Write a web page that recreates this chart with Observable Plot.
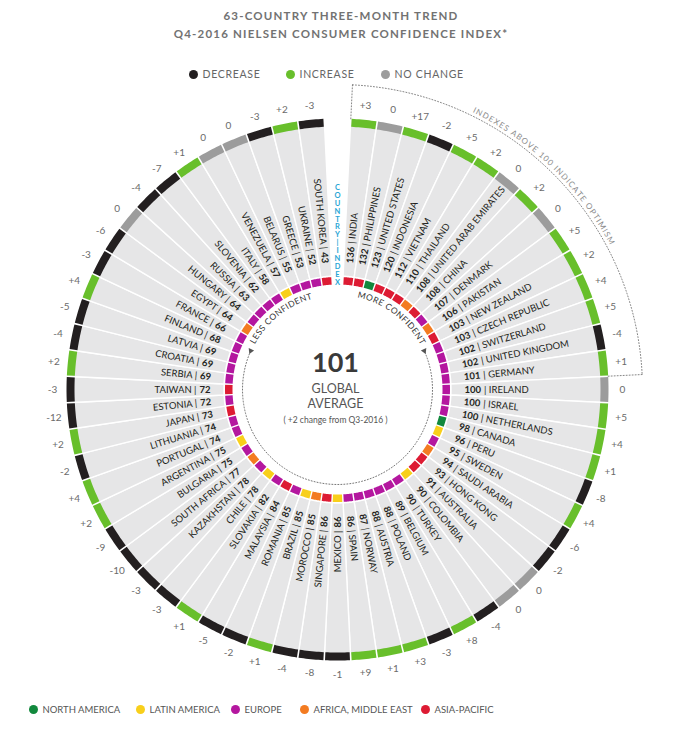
<!DOCTYPE html>
<html><head><meta charset="utf-8">
<script src="https://cdn.jsdelivr.net/npm/d3@7"></script>
<script src="https://cdn.jsdelivr.net/npm/@observablehq/plot@0.6"></script>
<style>
body{margin:0;background:#fff;font-family:Lato,sans-serif;}
#wrap{position:relative;width:682px;height:731px;overflow:hidden;background:#fff;}
.t{position:absolute;left:0;width:682px;text-align:center;color:#727272;font-weight:700;font-size:11.5px;letter-spacing:1.2px;line-height:14px;}
.lgi{position:absolute;display:flex;align-items:center;height:14px;white-space:nowrap;}
.dot{width:9px;height:9px;border-radius:50%;margin-right:5px;flex:none}
#chart{position:absolute;left:0;top:82px}
</style></head><body>
<div id="wrap">
<div class="t" style="top:9px">63-COUNTRY THREE-MONTH TREND</div>
<div class="t" style="top:27px">Q4-2016 NIELSEN CONSUMER CONFIDENCE INDEX*</div>
<div id="legTop"></div>
<div id="chart"></div>
<div id="legBot"></div>
</div>
<script>
// ---------------- DATA ----------------
const countries = ["INDIA","PHILIPPINES","UNITED STATES","INDONESIA","VIETNAM","THAILAND","UNITED ARAB EMIRATES","CHINA","DENMARK","PAKISTAN","NEW ZEALAND","CZECH REPUBLIC","SWITZERLAND","UNITED KINGDOM","GERMANY","IRELAND","ISRAEL","NETHERLANDS","CANADA","PERU","SWEDEN","SAUDI ARABIA","HONG KONG","AUSTRALIA","COLOMBIA","TURKEY","BELGIUM","POLAND","AUSTRIA","NORWAY","SPAIN","MEXICO","SINGAPORE","MOROCCO","BRAZIL","ROMANIA","MALAYSIA","SLOVAKIA","CHILE","KAZAKHSTAN","SOUTH AFRICA","BULGARIA","ARGENTINA","PORTUGAL","LITHUANIA","JAPAN","ESTONIA","TAIWAN","SERBIA","CROATIA","LATVIA","FINLAND","FRANCE","EGYPT","HUNGARY","RUSSIA","SLOVENIA","ITALY","VENEZUELA","BELARUS","GREECE","UKRAINE","SOUTH KOREA"];
const indexValues = [136,132,123,120,112,110,108,108,107,106,103,103,102,102,101,100,100,100,98,96,95,94,93,91,90,90,89,88,88,87,86,86,86,85,85,85,84,82,78,78,77,75,75,74,74,73,72,72,69,69,69,68,66,64,64,63,62,58,57,55,53,52,43];
const changes = [3,0,17,-2,5,2,0,2,0,5,2,4,5,-4,1,0,5,4,1,-8,4,-6,-2,0,0,-4,8,-3,3,1,9,-1,-8,-4,1,-2,-5,1,-3,-3,-10,-9,2,4,-2,2,-12,-3,2,-4,-5,4,-3,-6,0,-4,-7,1,0,0,-3,2,-3];
const regions = ["AP","AP","NA","AP","AP","AP","AME","AP","EU","AME","AP","EU","EU","EU","EU","EU","EU","EU","NA","LA","EU","AME","AP","AP","LA","EU","EU","EU","EU","EU","EU","LA","AP","AME","LA","EU","AP","EU","LA","EU","AME","EU","LA","EU","EU","AP","EU","AP","EU","EU","EU","EU","EU","AME","EU","EU","EU","EU","LA","EU","EU","EU","AP"];
const regionCodes = ["NA","LA","EU","AME","AP"];
const regionNames = ["NORTH AMERICA","LATIN AMERICA","EUROPE","AFRICA, MIDDLE EAST","ASIA-PACIFIC"];
const regionColors = ["#12893d","#f8cf1b","#b4179f","#f37b21","#dd1b33"];
const trendNames = ["DECREASE","INCREASE","NO CHANGE"];
const trendColors = ["#231f20","#68bf2b","#9c9c9c"];
const globalAverage = 101;
const globalLines = ["GLOBAL","AVERAGE"];
const globalChangeNote = "( +2 change from Q3-2016 )";
const optimismNote = "INDEXES ABOVE 100 INDICATE OPTIMISM";
const moreLabel = "MORE CONFIDENT";
const lessLabel = "LESS CONFIDENT";
const gapLabel = "COUNTRY|INDEX";

// ---------------- LEGENDS (HTML) ----------------
function legend(el, names, colors, lefts, top, font, color, ls){
  const box = document.getElementById(el);
  names.forEach((n,i)=>{
    const d = document.createElement("div");
    d.className = "lgi";
    d.style.left = lefts[i]+"px"; d.style.top = top+"px";
    d.style.font = font; d.style.color = color; d.style.letterSpacing = ls;
    d.innerHTML = `<span class="dot" style="background:${colors[i]}"></span><span>${n}</span>`;
    box.appendChild(d);
  });
}
legend("legTop", trendNames, trendColors, [188.5,285.5,380.5], 67, "10.5px Lato", "#666", "0.7px");
legend("legBot", regionNames, regionColors, [28.5,135.5,230.5,299.5,420.5], 702, "9.5px Lato", "#555", "0px");

// ---------------- GEOMETRY ----------------
const W = 682, H = 610, CX = 337, CY = 307;
const slot = 360/64, rad = Math.PI/180;
const polar = (r, th) => [r*Math.sin(th*rad), r*Math.cos(th*rad)];
const ctx = document.createElement("canvas").getContext("2d");
const tw = (s, font) => { ctx.font = font; return ctx.measureText(s).width; };

const data = countries.map((c,i)=>({
  name:c, idx:indexValues[i], change:changes[i], region:regions[i],
  trend: changes[i] < 0 ? "DECREASE" : changes[i] > 0 ? "INCREASE" : "NO CHANGE",
  theta:(i+1)*slot, i
}));

function band(r0, r1, a0, a1, n=10){
  const pts=[];
  for(let k=0;k<=n;k++) pts.push(polar(r0, a0+(a1-a0)*k/n));
  for(let k=n;k>=0;k--) pts.push(polar(r1, a0+(a1-a0)*k/n));
  pts.push(pts[0]);
  return pts;
}
function ring(r0, r1, key, gapPx){
  const g = (gapPx/((r0+r1)/2))/rad/2;
  return data.flatMap(d => band(r0, r1, d.theta-slot/2+g, d.theta+slot/2-g).map(([x,y])=>({id:d.i, x, y, cat:d[key]})));
}
const wedgeRows = data.flatMap(d => band(113.5, 266, d.theta-slot/2, d.theta+slot/2).map(([x,y])=>({id:d.i,x,y})));
const outerRows = ring(263, 271, "trend", 1.6);
const regionRows = ring(105, 112.5, "region", 1.4);

// labels
const numFont = "bold 9.5px Lato";
const R0 = 127;
const right = data.filter(d => d.theta < 180), left = data.filter(d => d.theta >= 180);
function labelRows(arr, isRight){
  return arr.flatMap(d=>{
    const nw = tw(String(d.idx), numFont);
    const [nx,ny] = polar(R0, d.theta);
    const [mx,my] = polar(R0+nw+3, d.theta);
    const rot = isRight ? d.theta-90 : d.theta+90;
    return [{kind:"num", x:nx, y:ny, rot, text:String(d.idx)},
            {kind:"name", x:mx, y:my, rot, text: isRight ? "| "+d.name : d.name+" |"}];
  });
}
const rightLabels = labelRows(right, true), leftLabels = labelRows(left, false);
const changeRows = data.map(d=>{const [x,y]=polar(285,d.theta); return {x,y,text: d.change>0?"+"+d.change:String(d.change)};});

function arcText(str, r, mid, font, sp){
  const chars=[...str], ws=chars.map(c=>tw(c,font));
  const total = d3.sum(ws)+sp*(chars.length-1);
  const start = mid - (total/r)/rad/2;
  let acc=0;
  return chars.map((c,k)=>{const cc=acc+ws[k]/2; acc+=ws[k]+sp; const th=start+(cc/r)/rad; const [x,y]=polar(r,th); return {c,x,y,rot:th};});
}
const moreRows = arcText(moreLabel, 97, 37, "8.5px Lato", 0.6);
const lessRows = arcText(lessLabel, 97, 321.5, "8.5px Lato", 0.6);
const optRows = arcText(optimismNote, 311, 44, "8px Lato", 1.1);

const arcLine = (r, a0, a1, n=120) => d3.range(n+1).map(k=>{const [x,y]=polar(r,a0+(a1-a0)*k/n); return {x,y};});
const dottedCircle = arcLine(95, 67, 293);
const optArc = arcLine(305, slot/2, 15.5*slot);
const optTicks = [slot/2, 15.5*slot].flatMap((a,j)=>[polar(271,a),polar(305,a)].map(([x,y])=>({x,y,id:j})));
const arrowRows = [{p:polar(95,66), rot:156},{p:polar(95,294), rot:204}].map(d=>({x:d.p[0],y:d.p[1],rot:d.rot}));
const gapRows = [...gapLabel].map((c,k)=>({c, x:0, y:202-k*7.9}));
const centerLines = globalLines.map((t,k)=>({t, x:0, y:0, k}));

const chart = Plot.plot({
  width: W, height: H, margin: 0,
  x: {domain:[-CX, W-CX], range:[0,W], axis:null},
  y: {domain:[CY, CY-H], range:[0,H], axis:null},
  color: {domain:[...trendNames, ...regionCodes], range:[...trendColors, ...regionColors]},
  style: {fontFamily:"Lato", background:"white"},
  marks: [
    Plot.line(wedgeRows, {x:"x", y:"y", z:"id", fill:"#e6e6e7", stroke:"#fff", strokeWidth:1.4, curve:"linear"}),
    Plot.line(outerRows, {x:"x", y:"y", z:"id", fill:"cat", stroke:"none", curve:"linear"}),
    Plot.line(regionRows, {x:"x", y:"y", z:"id", fill:"cat", stroke:"none", curve:"linear"}),
    Plot.text(rightLabels.filter(d=>d.kind==="num"), {x:"x", y:"y", text:"text", rotate:"rot", textAnchor:"start", fontWeight:"bold", fontSize:9.5, fill:"#231f20"}),
    Plot.text(rightLabels.filter(d=>d.kind==="name"), {x:"x", y:"y", text:"text", rotate:"rot", textAnchor:"start", fontSize:9.5, fill:"#231f20"}),
    Plot.text(leftLabels.filter(d=>d.kind==="num"), {x:"x", y:"y", text:"text", rotate:"rot", textAnchor:"end", fontWeight:"bold", fontSize:9.5, fill:"#231f20"}),
    Plot.text(leftLabels.filter(d=>d.kind==="name"), {x:"x", y:"y", text:"text", rotate:"rot", textAnchor:"end", fontSize:9.5, fill:"#231f20"}),
    Plot.text(changeRows, {x:"x", y:"y", text:"text", fontSize:10, fill:"#6b6b6b"}),
    Plot.line(dottedCircle, {x:"x", y:"y", stroke:"#666", strokeWidth:0.9, strokeDasharray:"1,2"}),
    Plot.dot(arrowRows, {x:"x", y:"y", rotate:"rot", symbol:"triangle", r:2.2, fill:"#555", stroke:"none"}),
    Plot.text(moreRows, {x:"x", y:"y", text:"c", rotate:"rot", fontSize:8.5, fill:"#333"}),
    Plot.text(lessRows, {x:"x", y:"y", text:"c", rotate:"rot", fontSize:8.5, fill:"#333"}),
    Plot.line(optArc, {x:"x", y:"y", stroke:"#777", strokeWidth:0.9, strokeDasharray:"1,2"}),
    Plot.line(optTicks, {x:"x", y:"y", z:"id", stroke:"#777", strokeWidth:0.9, strokeDasharray:"1,2"}),
    Plot.text(optRows, {x:"x", y:"y", text:"c", rotate:"rot", fontSize:8, fill:"#8c8c8c"}),
    Plot.text(gapRows, {x:"x", y:"y", text:"c", fontSize:7.5, fontWeight:"bold", fill:"#2aa6d5"}),
    Plot.text([{x:0,y:0}], {x:"x", y:"y", text:()=>String(globalAverage), dx:-2, dy:-26, fontSize:27, fontWeight:"bold", fill:"#3a3a3a"}),
    Plot.text(centerLines.filter(d=>d.k===0), {x:"x", y:"y", text:"t", dx:-2, dy:-1, fontSize:12.5, fill:"#555"}),
    Plot.text(centerLines.filter(d=>d.k===1), {x:"x", y:"y", text:"t", dx:-2, dy:14.5, fontSize:12.5, fill:"#555"}),
    Plot.text([{x:0,y:0}], {x:"x", y:"y", text:()=>globalChangeNote, dx:-2, dy:31, fontSize:8.5, fill:"#555"})
  ]
});
document.getElementById("chart").appendChild(chart);
</script>
</body></html>
